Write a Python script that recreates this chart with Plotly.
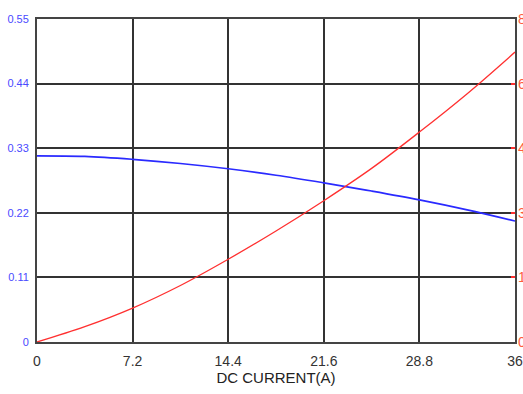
import plotly.graph_objects as go

current = [0, 3.6, 7.2, 10.8, 14.4, 18, 21.6, 25.2, 28.8, 32.4, 36]
blue_vals = [0.317, 0.316, 0.311, 0.304, 0.295, 0.284, 0.271, 0.257, 0.242, 0.225, 0.206]
red_vals = [0, 0.38, 0.84, 1.4, 2.05, 2.75, 3.5, 4.3, 5.2, 6.15, 7.18]
x_ticks = [0, 7.2, 14.4, 21.6, 28.8, 36]
x_ticklabels = ["0", "7.2", "14.4", "21.6", "28.8", "36"]
left_ticks = [0, 0.11, 0.22, 0.33, 0.44, 0.55]
left_ticklabels = ["0", "0.11", "0.22", "0.33", "0.44", "0.55"]
right_ticks = [0, 1.6, 3.2, 4.8, 6.4, 8]
right_ticklabels = ["0", "1.6", "3.2", "4.8", "6.4", "8"]

fig = go.Figure()
fig.add_trace(go.Scatter(x=current, y=blue_vals, mode="lines",
                         line=dict(color="#2a2aff", width=1.6, shape="spline"),
                         showlegend=False))
fig.add_trace(go.Scatter(x=current, y=red_vals, mode="lines", yaxis="y2",
                         line=dict(color="#ff3030", width=1.3, shape="spline"),
                         showlegend=False))

fig.update_layout(
    width=523, height=394,
    margin=dict(l=37, r=8, t=19, b=52, autoexpand=False),
    paper_bgcolor="white", plot_bgcolor="white",
    font=dict(family="Liberation Sans, Arial, sans-serif"),
    xaxis=dict(range=[0, 36], tickvals=x_ticks, ticktext=x_ticklabels,
               showgrid=True, gridcolor="#333333", gridwidth=1.5,
               showline=True, linecolor="#444444", linewidth=2, mirror=True,
               zeroline=False, ticks="", ticklabelstandoff=5, automargin=False,
               tickfont=dict(size=14, color="#333333"),
               title=dict(text="DC CURRENT(A)", font=dict(size=15, color="#222222"), standoff=5)),
    yaxis=dict(range=[0, 0.55], tickvals=left_ticks, ticktext=left_ticklabels,
               showgrid=True, gridcolor="#333333", gridwidth=1.5,
               showline=True, linecolor="#444444", linewidth=2, mirror=True,
               zeroline=False, ticks="", ticklabelstandoff=4, automargin=False,
               tickfont=dict(size=11, color="#4a4aff")),
    yaxis2=dict(range=[0, 8], tickvals=right_ticks, ticktext=right_ticklabels,
                overlaying="y", side="right", showgrid=False, zeroline=False,
                showline=False, ticks="inside", ticklen=4, tickcolor="#ff3030",
                tickwidth=2, ticklabelstandoff=2, automargin=False,
                tickfont=dict(size=14, color="#ff5a3c")),
)

fig.write_html("out.html", config={"displayModeBar": False},
               post_script="document.body.style.margin='0';")
